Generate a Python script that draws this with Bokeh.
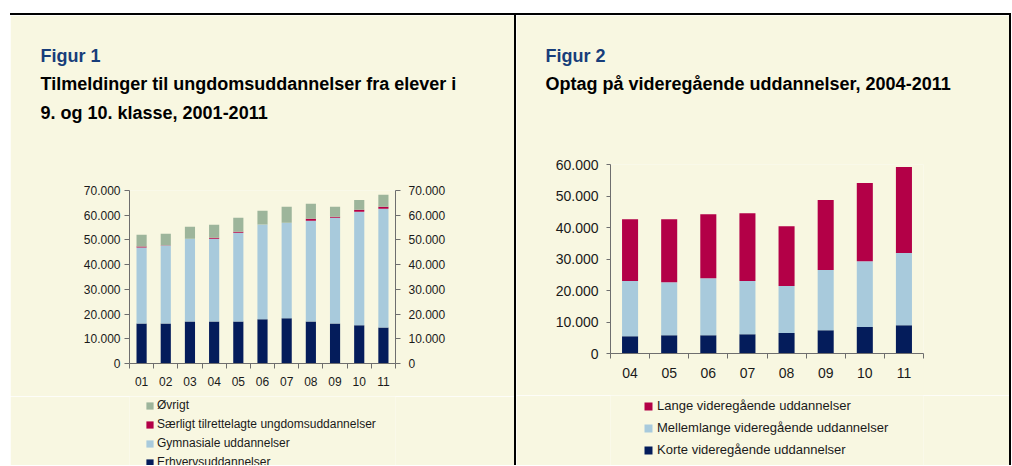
from bokeh.plotting import figure
from bokeh.models import (ColumnDataSource, Range1d, FixedTicker, LinearAxis,
                          Legend, LegendItem, Title, Spacer)
from bokeh.layouts import column, row
from bokeh.embed import file_html
from bokeh.resources import INLINE

# ---------------- data: Figur 1 ----------------
years1 = ["01", "02", "03", "04", "05", "06", "07", "08", "09", "10", "11"]
erhverv = [16200, 16200, 17000, 17000, 17000, 17900, 18300, 17000, 16200, 15500, 14600]
gymnasiale = [30700, 31500, 33500, 33500, 35900, 38300, 38700, 40800, 42800, 45900, 48000]
saerligt = [400, 100, 0, 400, 400, 0, 0, 800, 400, 800, 800]
ovrigt = [4800, 4700, 4800, 5200, 5700, 5600, 6400, 6000, 4000, 4000, 4900]
y1_ticks = [0, 10000, 20000, 30000, 40000, 50000, 60000, 70000]
y1_labels = ["0", "10.000", "20.000", "30.000", "40.000", "50.000", "60.000", "70.000"]
names1 = ["Erhvervsuddannelser", "Gymnasiale uddannelser",
          "Særligt tilrettelagte ungdomsuddannelser", "Øvrigt"]
titles1 = ["Figur 1", "Tilmeldinger til ungdomsuddannelser fra elever i",
           "9. og 10. klasse, 2001-2011"]

# ---------------- data: Figur 2 ----------------
years2 = ["04", "05", "06", "07", "08", "09", "10", "11"]
korte = [5500, 5800, 5800, 6100, 6500, 7400, 8400, 9000]
mellemlange = [17500, 16800, 18100, 16900, 14900, 19100, 20900, 22900]
lange = [19600, 20000, 20300, 21500, 19000, 22200, 24800, 27300]
y2_ticks = [0, 10000, 20000, 30000, 40000, 50000, 60000]
y2_labels = ["0", "10.000", "20.000", "30.000", "40.000", "50.000", "60.000"]
names2 = ["Korte videregående uddannelser", "Mellemlange videregående uddannelser",
          "Lange videregående uddannelser"]
titles2 = ["Figur 2", "Optag på videregående uddannelser, 2004-2011"]

# ---------------- styles ----------------
CREAM = "#F8F7E1"
NAVY = "#041C5B"
LIGHT = "#A8CADC"
CRIMSON = "#B30047"
SAGE = "#9DB59B"
TITLE_BLUE = "#173D7A"
AXIS = "#6E6E6E"
TXT = "#1A1A1A"
FONT = "Liberation Sans"


def chart_fig(n, ymax, fw, fh, bl, br, bt, bb):
    p = figure(frame_width=fw, frame_height=fh, min_border_left=bl, min_border_right=br,
               min_border_top=bt, min_border_bottom=bb, toolbar_location=None,
               output_backend="svg", x_range=Range1d(0, n), y_range=Range1d(0, ymax),
               background_fill_color=CREAM, border_fill_color=CREAM,
               outline_line_color=None, title=None)
    p.xgrid.visible = False
    p.ygrid.visible = False
    return p


def legend_fig(w, h, n):
    # holds hidden copies of the bars; only the legend is shown
    p = figure(width=w, height=h, min_border=0, toolbar_location=None,
               output_backend="svg", x_range=Range1d(0, n), y_range=Range1d(-2, -1),
               x_axis_location=None, y_axis_location=None,
               background_fill_color=CREAM, border_fill_color=CREAM,
               outline_line_color=None)
    p.xgrid.visible = False
    p.ygrid.visible = False
    return p


def style_xaxis(ax, labels, fs, standoff):
    n = len(labels)
    centers = [i + 0.5 for i in range(n)]
    ax.ticker = FixedTicker(ticks=centers, minor_ticks=list(range(n + 1)))
    ax.major_label_overrides = {c: l for c, l in zip(centers, labels)}
    ax.major_tick_out = 0
    ax.major_tick_in = 0
    ax.minor_tick_out = 5
    ax.minor_tick_in = 0
    ax.axis_line_color = AXIS
    ax.minor_tick_line_color = AXIS
    ax.major_label_text_font = FONT
    ax.major_label_text_font_size = fs
    ax.major_label_text_color = TXT
    ax.major_label_standoff = standoff


def style_yaxis(ax, ticks, labels, fs, tick_out, standoff):
    ax.ticker = FixedTicker(ticks=ticks)
    ax.major_label_overrides = {t: l for t, l in zip(ticks, labels)}
    ax.major_tick_out = tick_out
    ax.major_tick_in = 0
    ax.minor_tick_out = 0
    ax.minor_tick_in = 0
    ax.axis_line_color = AXIS
    ax.major_tick_line_color = AXIS
    ax.major_label_text_font = FONT
    ax.major_label_text_font_size = fs
    ax.major_label_text_color = TXT
    ax.major_label_standoff = standoff


def add_titles(p, texts, offset, standoffs, gap):
    # blank spacer between the plot area and the last title line
    p.add_layout(Title(text=" ", align="left", standoff=gap, text_font=FONT,
                       text_font_size="18px"), "above")
    # innermost (closest to the plot) first
    for i in reversed(range(len(texts))):
        p.add_layout(Title(text=texts[i], align="left", offset=offset,
                           standoff=standoffs[i], text_font=FONT,
                           text_font_size="18px", text_font_style="bold",
                           text_color=TITLE_BLUE if i == 0 else "#000000"), "above")


def add_legend(p, renderers, order, names, loc, fs, glyph, standoff, spacing):
    for r in renderers:
        r.visible = False
    items = [LegendItem(label=names[i], renderers=[renderers[i]]) for i in order]
    leg = Legend(items=items, location=loc, orientation="vertical",
                 glyph_width=glyph, glyph_height=glyph, label_height=glyph,
                 label_standoff=standoff, spacing=spacing, padding=0, margin=0,
                 label_text_font=FONT, label_text_font_size=fs, label_text_color=TXT,
                 background_fill_alpha=0, border_line_alpha=0,
                 inactive_fill_alpha=0, click_policy="none")
    p.add_layout(leg, "center")


# ---------------- Figur 1 ----------------
src1 = ColumnDataSource(dict(x=[i + 0.5 for i in range(len(years1))], erhverv=erhverv,
                             gymnasiale=gymnasiale, saerligt=saerligt, ovrigt=ovrigt))
stack1 = ["erhverv", "gymnasiale", "saerligt", "ovrigt"]
colors1 = [NAVY, LIGHT, CRIMSON, SAGE]
p1 = chart_fig(len(years1), 70000, 266, 173, 119, 119, 175, 33)
p1.vbar_stack(stack1, x="x", width=0.42, source=src1, fill_color=colors1, line_color=None)
style_xaxis(p1.xaxis[0], years1, "12px", 8)
style_yaxis(p1.yaxis[0], y1_ticks, y1_labels, "12px", 5, 4)
ax_r = LinearAxis()
p1.add_layout(ax_r, "right")
style_yaxis(ax_r, y1_ticks, y1_labels, "12px", 5, 8)
add_titles(p1, titles1, -89, [6, 6, 8], 42)

l1 = legend_fig(504, 69, len(years1))
lr1 = l1.vbar_stack(stack1, x="x", width=0.42, source=src1, fill_color=colors1,
                    line_color=None)
add_legend(l1, lr1, [3, 2, 1, 0], names1, (16, -4), "12px", 9, 3, 5)

# ---------------- Figur 2 ----------------
src2 = ColumnDataSource(dict(x=[i + 0.5 for i in range(len(years2))], korte=korte,
                             mellemlange=mellemlange, lange=lange))
stack2 = ["korte", "mellemlange", "lange"]
colors2 = [NAVY, LIGHT, CRIMSON]
p2 = chart_fig(len(years2), 60000, 313, 189, 94, 86, 149, 42)
p2.vbar_stack(stack2, x="x", width=0.41, source=src2, fill_color=colors2, line_color=None)
style_xaxis(p2.xaxis[0], years2, "14px", 9)
style_yaxis(p2.yaxis[0], y2_ticks, y2_labels, "14px", 4, 8)
add_titles(p2, titles2, -65, [6, 6], 46)

l2 = legend_fig(493, 70, len(years2))
lr2 = l2.vbar_stack(stack2, x="x", width=0.41, source=src2, fill_color=colors2,
                    line_color=None)
add_legend(l2, lr2, [2, 1, 0], names2, (33, 8), "13px", 10, 4, 7)

# ---------------- layout ----------------
top_gap = Spacer(width=1011, height=13)
hline = row(Spacer(width=10, height=2),
            Spacer(width=1001, height=2, styles={"background-color": "black"}))
left_gap = Spacer(width=10, height=450)
vline1 = Spacer(width=2, height=450, styles={"background-color": "black"})
vline2 = Spacer(width=2, height=450, styles={"background-color": "black"})
layout = column(top_gap, hline,
                row(left_gap, column(p1, l1), vline1, column(p2, l2), vline2))

open("out.html", "w").write(file_html(layout, INLINE))
